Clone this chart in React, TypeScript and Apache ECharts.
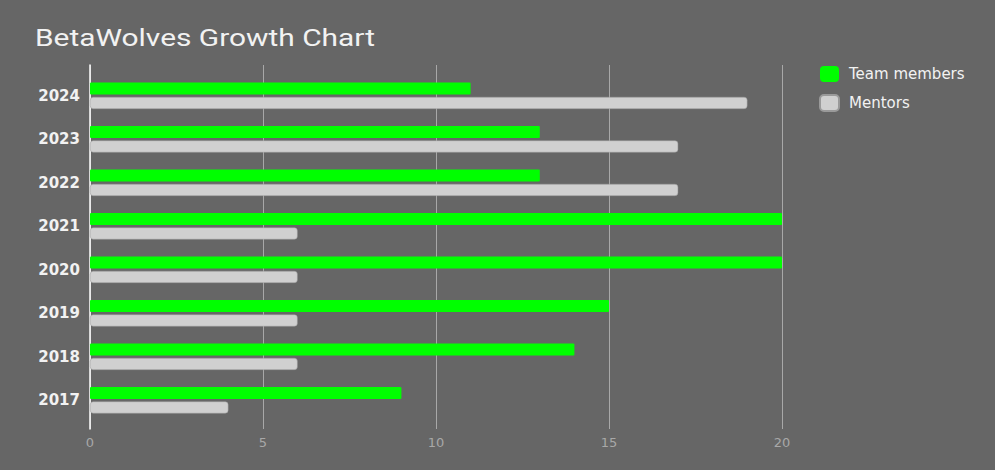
import React, { useEffect, useRef } from "react";
import * as echarts from "echarts";

const years = ["2024", "2023", "2022", "2021", "2020", "2019", "2018", "2017"];
const teamMembers = [11, 13, 13, 20, 20, 15, 14, 9];
const mentors = [19, 17, 17, 6, 6, 6, 6, 4];
const xTicks = [0, 5, 10, 15, 20];
const titleText = "BetaWolves Growth Chart";

export default function App() {
  const ref = useRef<HTMLDivElement>(null);
  useEffect(() => {
    document.body.style.margin = "0";
    const chart = echarts.init(ref.current!, null, { renderer: "svg" });
    const font = "Roboto, 'Noto Sans', sans-serif";
    const wide = "'DejaVu Sans', Roboto, sans-serif";
    chart.setOption({
      animation: false,
      backgroundColor: "#666666",
      textStyle: { fontFamily: font },
      graphic: [
        {
          type: "text",
          x: 35,
          y: 27,
          scaleX: 1.3,
          style: { text: titleText, fill: "#f2f2f2", font: "23px Roboto, sans-serif" },
        },
      ],
      legend: {
        orient: "vertical",
        left: 814,
        top: 61,
        itemWidth: 19,
        itemHeight: 16,
        itemGap: 12,
        icon: "roundRect",
        data: ["Team members", "Mentors"],
        textStyle: { color: "#f2f2f2", fontSize: 15, fontFamily: wide, padding: [0, 0, 0, 5] },
      },
      grid: [
        { left: 90, right: 213, top: 65, bottom: 41 },
        { left: 90, right: 213, top: 74, bottom: 48 },
      ],
      xAxis: [
        {
          type: "value",
          gridIndex: 0,
          min: xTicks[0],
          max: xTicks[xTicks.length - 1],
          interval: 5,
          axisLine: { show: false },
          axisTick: { show: false },
          splitLine: { lineStyle: { color: "#a8a8a8", width: 1 } },
          axisLabel: { color: "#a8a8a8", fontSize: 13, margin: 7, fontFamily: wide },
        },
        {
          type: "value",
          gridIndex: 1,
          min: xTicks[0],
          max: xTicks[xTicks.length - 1],
          show: false,
        },
      ],
      yAxis: [
        {
          type: "category",
          gridIndex: 0,
          data: years,
          axisLine: { show: true, lineStyle: { color: "#ffffff", width: 1.5 } },
          axisTick: { show: false },
          axisLabel: { show: false },
          splitLine: { show: false },
        },
        {
          type: "category",
          gridIndex: 1,
          inverse: true,
          data: years,
          axisLine: { show: false },
          axisTick: { show: false },
          axisLabel: { color: "#f2f2f2", fontSize: 15, margin: 10, fontFamily: wide, fontWeight: "bold" },
          splitLine: { show: false },
        },
      ],
      series: [
        {
          name: "Team members",
          type: "bar",
          xAxisIndex: 1,
          yAxisIndex: 1,
          data: teamMembers,
          barWidth: 12,
          barGap: "20%",
          itemStyle: { color: "#00ff00", borderRadius: 1 },
        },
        {
          name: "Mentors",
          type: "bar",
          xAxisIndex: 1,
          yAxisIndex: 1,
          data: mentors,
          barWidth: 12,
          itemStyle: { color: "#d0d0d0", borderColor: "#9a9a9a", borderWidth: 0.5, borderRadius: 3 },
        },
      ],
    });
    return () => chart.dispose();
  }, []);
  return <div ref={ref} style={{ position: "fixed", left: 0, top: 0, width: 995, height: 470 }} />;
}
